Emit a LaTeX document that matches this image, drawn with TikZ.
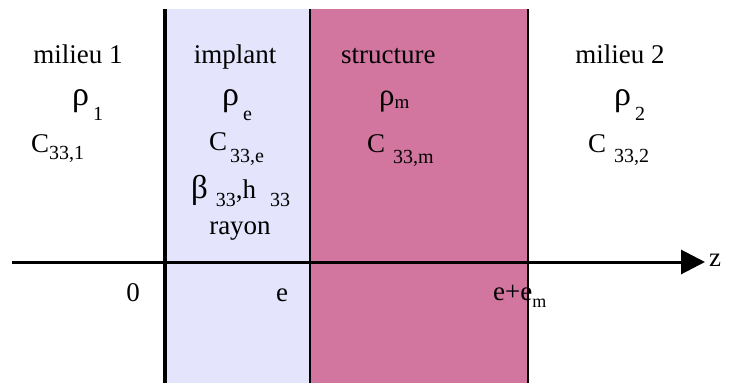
\documentclass[tikz,border=0pt]{standalone}
\usepackage{fontspec}
\setmainfont{Liberation Serif}
\usetikzlibrary{arrows.meta}
\definecolor{Implant}{HTML}{E4E4FC}
\definecolor{Structure}{HTML}{D276A0}
\newcommand{\Lowered}[2]{\raisebox{-#1pt}{\fontsize{20}{22}\selectfont #2}}
\newcommand{\Greek}[2]{{\fontsize{#1}{#1}\selectfont #2}}

\begin{document}
\begin{tikzpicture}[x=1pt,y=-1pt]

  \tikzset{
    txt/.style={inner sep=0pt, font=\fontsize{27}{30}\selectfont},
    layer line/.style={draw=black},
  }

  \useasboundingbox (0,0) rectangle (731,383);

  % bands
  \fill[Implant] (165,9) rectangle (310,383);
  \fill[Structure] (310,9) rectangle (528,383);

  % axis
  \coordinate (axisstart) at (12,262);
  \coordinate (axisend) at (705,262);
  \draw[line width=3pt, -{Triangle[length=24pt,width=24pt]}] (axisstart) -- (axisend);

  % interfaces
  \coordinate (zerotop) at (165,9);
  \coordinate (zerobot) at (165,383);
  \coordinate (etop) at (310,9);
  \coordinate (ebot) at (310,383);
  \coordinate (emtop) at (528,9);
  \coordinate (embot) at (528,383);
  \draw[layer line, line width=4pt] (zerotop) -- (zerobot);
  \draw[layer line, line width=2pt] (etop) -- (ebot);
  \draw[layer line, line width=2.5pt] (emtop) -- (embot);

  % milieu 1
  \node[txt, anchor=base] (milieuA) at (78,63) {milieu 1};
  \node[txt, anchor=base west] (rhoA) at (72,105) {\Greek{34}{ρ}\hspace{4pt}\Lowered{15}{1}};
  \node[txt, anchor=base west] (cA) at (31,152) {C\Lowered{7}{33,1}};

  % implant
  \node[txt, anchor=base] (implant) at (235,63) {implant};
  \node[txt, anchor=base west] (rhoE) at (222,105) {\Greek{34}{ρ}\hspace{4pt}\Lowered{15}{e}};
  \node[txt, anchor=base west] (cE) at (209,150) {C\hspace{3pt}\Lowered{12}{33,e}};
  \node[txt, anchor=base west] (betaE) at (191,198)
    {\Greek{33}{β}\hspace{8pt}\Lowered{8}{33},h\hspace{14pt}\Lowered{8}{33}};
  \node[txt, anchor=base] (rayon) at (240,234) {rayon};

  % structure
  \node[txt, anchor=base west] (structure) at (341,63) {structure};
  \node[txt, anchor=base west] (rhoM) at (379,105)
    {\Greek{31}{ρ}\raisebox{-3pt}{\fontsize{19}{21}\selectfont m}};
  \node[txt, anchor=base west] (cM) at (367,152) {C\hspace{8pt}\Lowered{11}{33,m}};

  % milieu 2
  \node[txt, anchor=base] (milieuB) at (620,63) {milieu 2};
  \node[txt, anchor=base west] (rhoB) at (614,105) {\Greek{34}{ρ}\hspace{4pt}\Lowered{15}{2}};
  \node[txt, anchor=base west] (cB) at (588,152) {C\hspace{8pt}\Lowered{10}{33,2}};

  % abscissae
  \node[txt, anchor=base] (zero) at (133,301) {0};
  \node[txt, anchor=base] (epos) at (282,301) {e};
  \node[txt, anchor=base west] (empos) at (493,300)
    {e+e\raisebox{-7pt}{\fontsize{18}{20}\selectfont m}};
  \node[txt, anchor=base] (zlabel) at (715,266) {z};

\end{tikzpicture}
\end{document}
